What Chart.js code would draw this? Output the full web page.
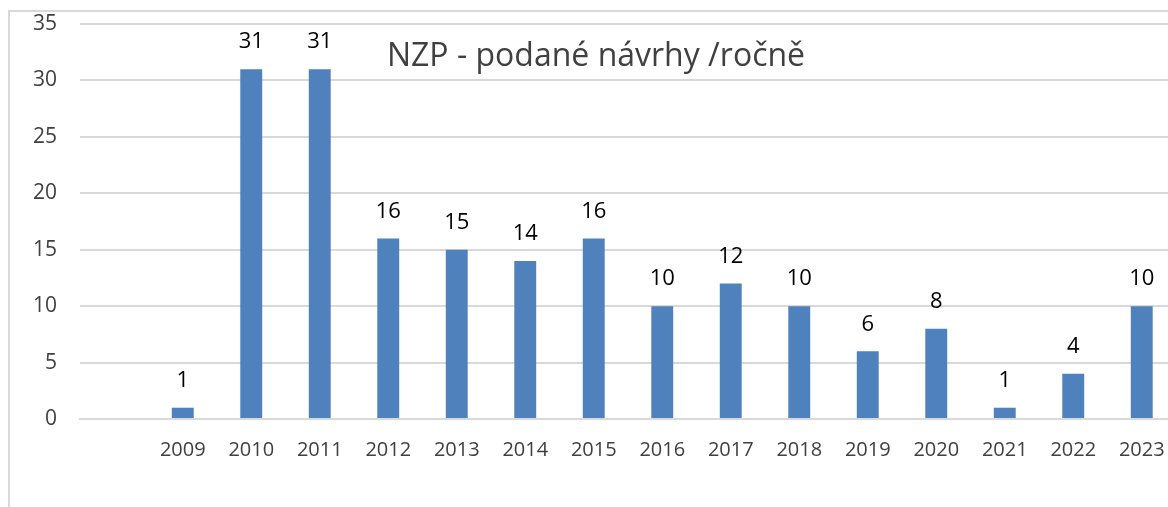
<!DOCTYPE html>
<html>
<head>
<meta charset="utf-8">
<script src="https://cdn.jsdelivr.net/npm/chart.js@4.4.0/dist/chart.umd.min.js"></script>
<style>
    html, body { margin: 0; padding: 0; background: #fff; overflow: hidden; width: 1168px; height: 507px; }
    #frame { position: absolute; left: 8px; top: 10px; width: 1300px; height: 600px;
             border-left: 2px solid #d9d9d9; border-top: 2px solid #d9d9d9; }
    #wrap { position: absolute; left: 9px; top: 11px; width: 1167px; height: 496px; }
</style>
</head>
<body>
<div id="frame"></div>
<div id="wrap"><canvas id="nzpChart"></canvas></div>
<script>
const years = ["", "2009", "2010", "2011", "2012", "2013", "2014", "2015", "2016", "2017", "2018", "2019", "2020", "2021", "2022", "2023"];
const navrhy = [null, 1, 31, 31, 16, 15, 14, 16, 10, 12, 10, 6, 8, 1, 4, 10];
const yTicks = [0, 5, 10, 15, 20, 25, 30, 35];
const chartTitle = "NZP - podané návrhy /ročně";

const fontFamily = "'Open Sans', 'Noto Sans', sans-serif";

// popisky hodnot nad sloupci
const valueLabels = {
    id: "valueLabels",
    afterDatasetsDraw(chart) {
        const ctx = chart.ctx;
        const meta = chart.getDatasetMeta(0);
        ctx.save();
        ctx.font = "22px " + fontFamily;
        ctx.fillStyle = "#000000";
        ctx.textAlign = "center";
        ctx.textBaseline = "middle";
        meta.data.forEach((bar, i) => {
            const v = chart.data.datasets[0].data[i];
            if (v === null) return;
            ctx.fillText(String(v), bar.x, bar.y - 27);
        });
        ctx.restore();
    }
};

// nadpis uvnitř grafu
const innerTitle = {
    id: "innerTitle",
    afterDraw(chart) {
        const ctx = chart.ctx;
        const area = chart.chartArea;
        ctx.save();
        ctx.font = "32px " + fontFamily;
        ctx.fillStyle = "#404040";
        ctx.textAlign = "center";
        ctx.textBaseline = "middle";
        ctx.fillText(chartTitle, area.left + 516, area.top + 33);
        ctx.restore();
    }
};

const ctx = document.getElementById("nzpChart").getContext("2d");
new Chart(ctx, {
    type: "bar",
    data: {
        labels: years,
        datasets: [{
            label: "NZP",
            data: navrhy,
            backgroundColor: "#4f81bd",
            borderWidth: 0,
            categoryPercentage: 1,
            barPercentage: 0.32
        }]
    },
    options: {
        responsive: true,
        maintainAspectRatio: false,
        animation: false,
        layout: { padding: { top: 13, left: 0, right: 0, bottom: 0 } },
        plugins: {
            legend: { display: false },
            tooltip: { enabled: false },
            title: { display: false }
        },
        scales: {
            x: {
                grid: { display: false, drawTicks: false },
                border: { display: true, color: "#d9d9d9", width: 2 },
                ticks: {
                    color: "#404040",
                    font: { family: fontFamily, size: 20 },
                    padding: 19,
                    maxRotation: 0,
                    autoSkip: false
                },
                afterFit(scale) { scale.height = 88; scale.paddingLeft = 0; scale.paddingRight = 0; }
            },
            y: {
                min: 0,
                max: 35,
                afterBuildTicks(scale) { scale.ticks = yTicks.map(v => ({ value: v })); },
                grid: { color: "#d9d9d9", lineWidth: 2, drawTicks: false },
                border: { display: false },
                ticks: {
                    color: "#404040",
                    font: { family: fontFamily, size: 21 },
                    padding: 23
                },
                afterFit(scale) { scale.width = 71; scale.paddingTop = 0; scale.paddingBottom = 0; }
            }
        }
    },
    plugins: [valueLabels, innerTitle]
});
</script>
</body>
</html>
